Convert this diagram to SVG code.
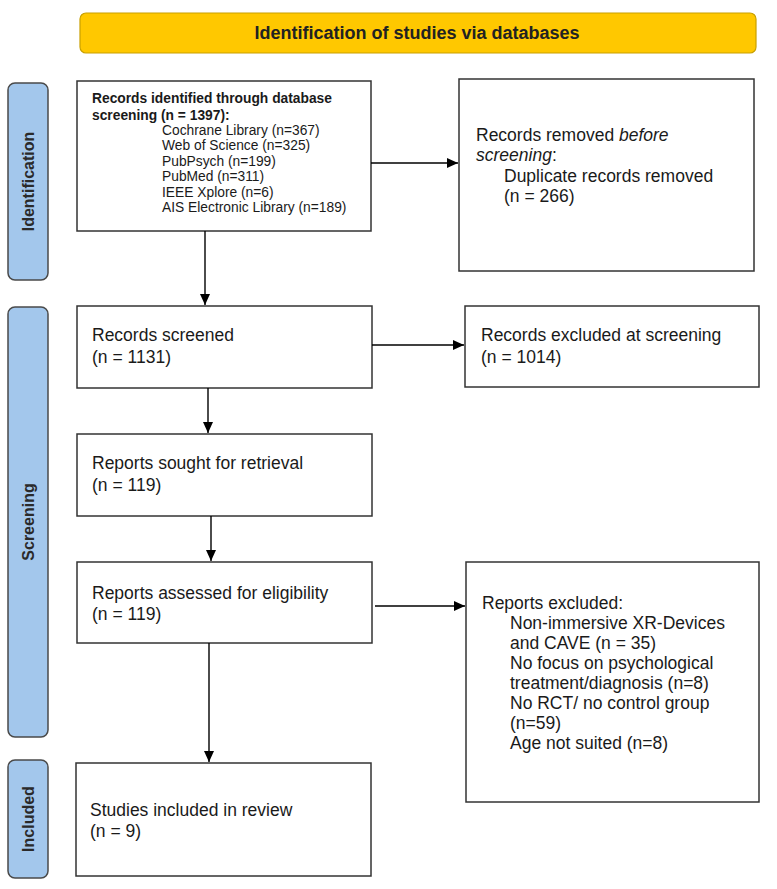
<svg xmlns="http://www.w3.org/2000/svg" width="777" height="889" viewBox="0 0 777 889">
<defs>
<marker id="ah" markerUnits="userSpaceOnUse" markerWidth="12" markerHeight="10" refX="11" refY="5" orient="auto">
<path d="M0,0 L11,5 L0,10 Z" fill="#000"/>
</marker>
<style>
.box{fill:#fff;stroke:#333;stroke-width:1.5}
.side{fill:#a3c7ec;stroke:#4a4a4a;stroke-width:1.5}
.t{font-family:"Liberation Sans",Arial,sans-serif;font-size:17.5px;fill:#1a1a1a}
.s{font-family:"Liberation Sans",Arial,sans-serif;font-size:13.8px;fill:#1a1a1a}
.b{font-weight:bold}
.lbl{font-family:"Liberation Sans",Arial,sans-serif;font-size:16px;font-weight:bold;fill:#2a2a2a}
.c{stroke:#000;stroke-width:1.4;fill:none;marker-end:url(#ah)}
</style>
</defs>
<rect width="777" height="889" fill="#fff"/>

<g id="header">
<rect x="80" y="13" width="676" height="40" rx="6" fill="#ffc800" stroke="#c9a000" stroke-width="1.2"/>
<text x="417" y="39" text-anchor="middle" font-family="Liberation Sans, Arial, sans-serif" font-size="18" font-weight="bold" fill="#222">Identification of studies via databases</text>
</g>

<g id="side-identification">
<rect class="side" x="8" y="83" width="40" height="197" rx="7"/>
<text class="lbl" transform="translate(28,181.5) rotate(-90)" text-anchor="middle" dominant-baseline="central">Identification</text>
</g>
<g id="side-screening">
<rect class="side" x="8" y="307" width="40" height="430" rx="7"/>
<text class="lbl" transform="translate(28,522) rotate(-90)" text-anchor="middle" dominant-baseline="central">Screening</text>
</g>
<g id="side-included">
<rect class="side" x="8" y="760" width="40" height="118" rx="7"/>
<text class="lbl" transform="translate(28,819) rotate(-90)" text-anchor="middle" dominant-baseline="central">Included</text>
</g>

<g id="records-identified">
<rect class="box" x="77" y="81" width="294" height="150"/>
<text class="s b" x="92" y="103">Records identified through database</text>
<text class="s b" x="92" y="120">screening (n = 1397):</text>
<text class="s" x="162" y="135">Cochrane Library (n=367)</text>
<text class="s" x="162" y="150">Web of Science (n=325)</text>
<text class="s" x="162" y="166">PubPsych (n=199)</text>
<text class="s" x="162" y="181">PubMed (n=311)</text>
<text class="s" x="162" y="197">IEEE Xplore (n=6)</text>
<text class="s" x="162" y="212">AIS Electronic Library (n=189)</text>
</g>

<g id="records-removed">
<rect class="box" x="459" y="79" width="295" height="192"/>
<text class="t" x="476" y="141">Records removed <tspan font-style="italic">before</tspan></text>
<text class="t" x="476" y="161"><tspan font-style="italic">screening</tspan>:</text>
<text class="t" x="504" y="182">Duplicate records removed</text>
<text class="t" x="504" y="202">(n = 266)</text>
</g>

<g id="records-screened">
<rect class="box" x="77" y="306" width="295" height="82"/>
<text class="t" x="92" y="341">Records screened</text>
<text class="t" x="92" y="363">(n = 1131)</text>
</g>

<g id="records-excluded">
<rect class="box" x="465" y="306" width="294" height="81"/>
<text class="t" x="481" y="341">Records excluded at screening</text>
<text class="t" x="481" y="363">(n = 1014)</text>
</g>

<g id="reports-sought">
<rect class="box" x="77" y="434" width="295" height="82"/>
<text class="t" x="92" y="469">Reports sought for retrieval</text>
<text class="t" x="92" y="491">(n = 119)</text>
</g>

<g id="reports-assessed">
<rect class="box" x="77" y="562" width="295" height="81"/>
<text class="t" x="92" y="599">Reports assessed for eligibility</text>
<text class="t" x="92" y="620">(n = 119)</text>
</g>

<g id="reports-excluded">
<rect class="box" x="466" y="562" width="293" height="240"/>
<text class="t" x="482" y="609">Reports excluded:</text>
<text class="t" x="510" y="629">Non-immersive XR-Devices</text>
<text class="t" x="510" y="649">and CAVE (n = 35)</text>
<text class="t" x="510" y="669">No focus on psychological</text>
<text class="t" x="510" y="689">treatment/diagnosis (n=8)</text>
<text class="t" x="510" y="709">No RCT/ no control group</text>
<text class="t" x="510" y="729">(n=59)</text>
<text class="t" x="510" y="749">Age not suited (n=8)</text>
</g>

<g id="studies-included">
<rect class="box" x="76" y="763" width="295" height="113"/>
<text class="t" x="90" y="816">Studies included in review</text>
<text class="t" x="90" y="837">(n = 9)</text>
</g>

<g id="connectors">
<line class="c" x1="205" y1="231" x2="205" y2="305"/>
<line class="c" x1="371" y1="163" x2="458" y2="163"/>
<line class="c" x1="372" y1="345" x2="464" y2="345"/>
<line class="c" x1="208" y1="388" x2="208" y2="433"/>
<line class="c" x1="211" y1="516" x2="211" y2="561"/>
<line class="c" x1="375" y1="606" x2="465" y2="606"/>
<line class="c" x1="209" y1="643" x2="209" y2="762"/>
</g>
</svg>
